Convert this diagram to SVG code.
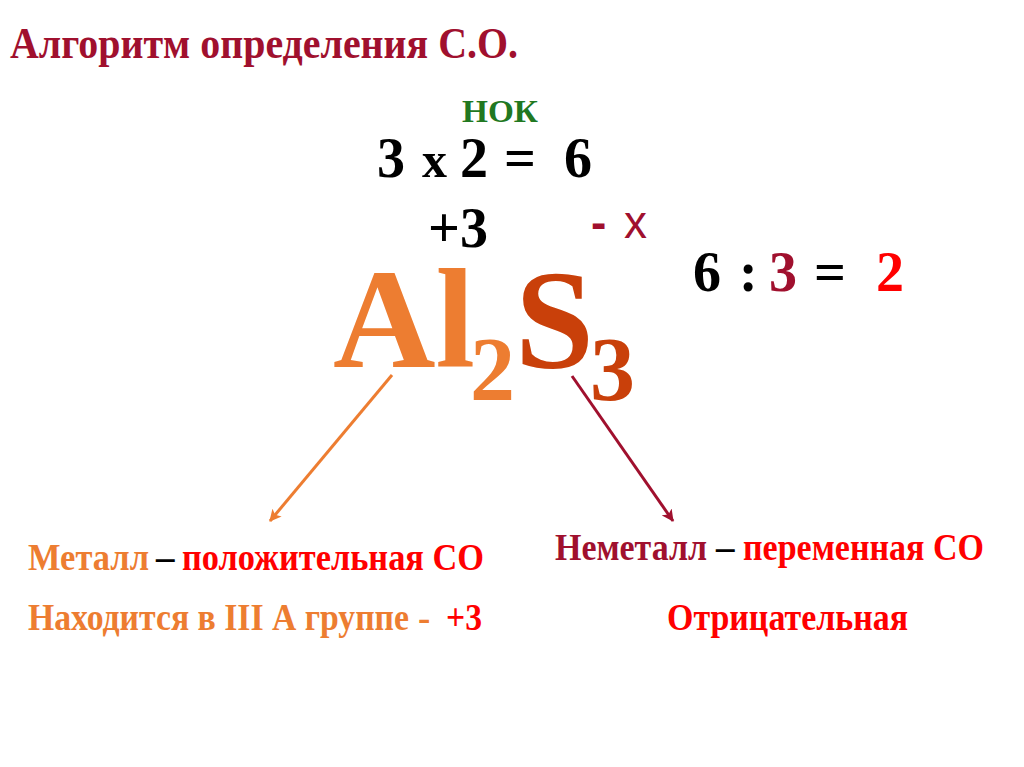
<svg xmlns="http://www.w3.org/2000/svg" width="1024" height="767" viewBox="0 0 1024 767">
  <style>
    .serif { font-family: "Liberation Serif", "Times New Roman", serif; font-weight: bold; }
    .sans { font-family: "Liberation Sans", Arial, sans-serif; }
    .dred { fill: #A0102E; }
    .red { fill: #FF0000; }
    .orange { fill: #ED7D31; }
    .black { fill: #000000; }
    .sulf { fill: #C9400A; }
    .lbl { font-size: 37px; }
  </style>
  <defs>
    <marker id="arrOrange" viewBox="0 0 12 12" refX="11" refY="6" markerWidth="12" markerHeight="12" markerUnits="userSpaceOnUse" orient="auto">
      <path d="M0,0 L12,6 L0,12 L3,6 Z" fill="#ED7D31"/>
    </marker>
    <marker id="arrRed" viewBox="0 0 12 12" refX="11" refY="6" markerWidth="12" markerHeight="12" markerUnits="userSpaceOnUse" orient="auto">
      <path d="M0,0 L12,6 L0,12 L3,6 Z" fill="#A0102E"/>
    </marker>
  </defs>
  <rect x="0" y="0" width="1024" height="767" fill="#FFFFFF"/>

  <g id="title">
    <text class="serif dred" x="10" y="58" font-size="45" textLength="508" lengthAdjust="spacingAndGlyphs">Алгоритм определения С.О.</text>
  </g>

  <g id="nok">
    <text class="serif" x="462" y="122" font-size="31" fill="#217821" textLength="76" lengthAdjust="spacingAndGlyphs">НОК</text>
  </g>

  <g id="product">
    <text class="serif black" y="177" font-size="56"><tspan x="377">3</tspan><tspan x="422" font-size="50">x</tspan><tspan x="460">2</tspan><tspan x="504">=</tspan><tspan x="564">6</tspan></text>
  </g>

  <g id="charge-al">
    <text class="serif black" x="428" y="247" font-size="56">+3</text>
  </g>

  <g id="charge-s">
    <text class="sans dred" y="238" font-size="46"><tspan x="591" font-weight="bold">-</tspan><tspan x="624">x</tspan></text>
  </g>

  <g id="division">
    <text class="serif black" y="291" font-size="56"><tspan x="693">6</tspan><tspan x="739">:</tspan><tspan class="dred" x="769">3</tspan><tspan x="814">=</tspan><tspan class="red" x="876">2</tspan></text>
  </g>

  <g id="formula">
    <text class="serif orange" x="333" y="367" font-size="142">Al</text>
    <text class="serif orange" x="470" y="400" font-size="90">2</text>
    <text class="serif sulf" x="515" y="368" font-size="142">S</text>
    <text class="serif sulf" x="590" y="400" font-size="90">3</text>
  </g>

  <g id="connectors">
    <line x1="392" y1="375" x2="270" y2="521" stroke="#ED7D31" stroke-width="3" marker-end="url(#arrOrange)"/>
    <line x1="572" y1="376" x2="673" y2="521" stroke="#A0102E" stroke-width="3" marker-end="url(#arrRed)"/>
  </g>

  <g id="metal">
    <text class="serif lbl orange" x="28" y="570" textLength="121" lengthAdjust="spacingAndGlyphs">Металл</text>
    <text class="serif lbl black" x="156" y="570">–</text>
    <text class="serif lbl red" x="182" y="570" textLength="302" lengthAdjust="spacingAndGlyphs">положительная СО</text>
    <text class="serif lbl orange" x="28" y="630" textLength="381" lengthAdjust="spacingAndGlyphs">Находится в III А группе</text>
    <text class="serif lbl orange" x="418" y="630">-</text>
    <text class="serif lbl red" x="446" y="630" textLength="36" lengthAdjust="spacingAndGlyphs">+3</text>
  </g>

  <g id="nonmetal">
    <text class="serif lbl dred" x="555" y="560" textLength="152" lengthAdjust="spacingAndGlyphs">Неметалл</text>
    <text class="serif lbl black" x="716" y="560">–</text>
    <text class="serif lbl red" x="743" y="560" textLength="241" lengthAdjust="spacingAndGlyphs">переменная СО</text>
    <text class="serif lbl red" x="667" y="630" textLength="241" lengthAdjust="spacingAndGlyphs">Отрицательная</text>
  </g>
</svg>
